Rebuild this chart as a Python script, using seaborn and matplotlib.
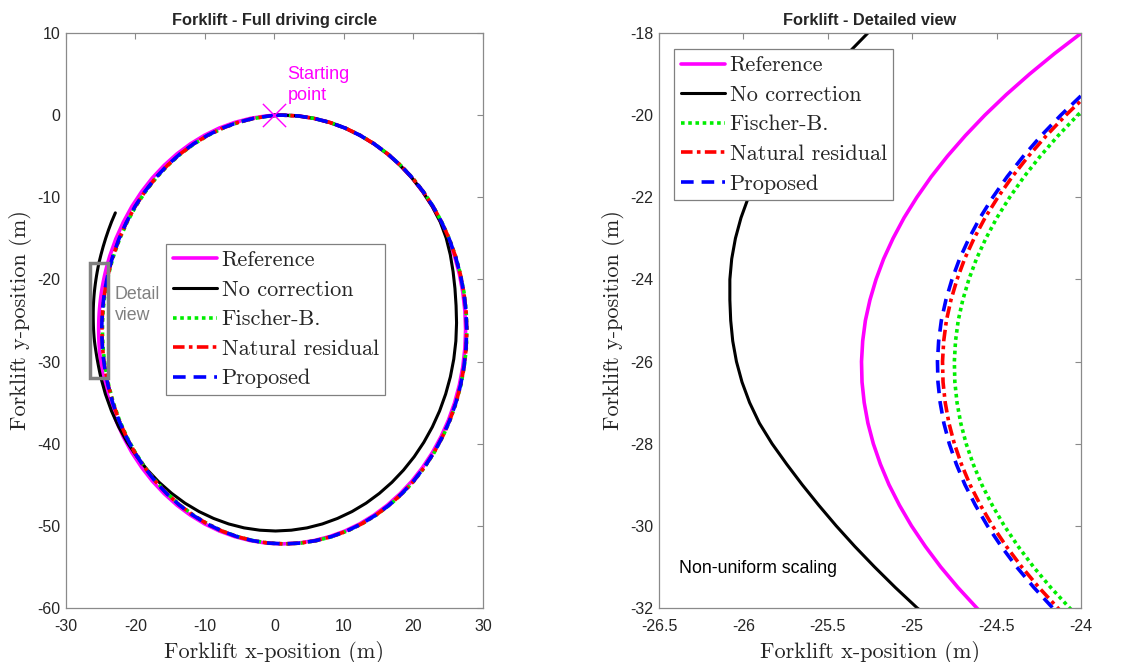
import matplotlib
matplotlib.use("Agg")
import matplotlib.pyplot as plt
import seaborn as sns
import pandas as pd
from matplotlib.patches import Rectangle

# ---------------- data ----------------
series_names = ["Reference", "No correction", "Fischer-B.", "Natural residual", "Proposed"]

# shared y samples of the reference path (clockwise from the starting point)
path_y = [-0.02, 0.00, -0.10, -0.40, -0.89, -1.57, -2.45, -3.50, -4.72, -6.11, -7.64, -9.32, -11.13,
          -13.05, -15.07, -17.17, -19.35, -21.57, -23.83, -26.10, -28.38, -30.63, -32.86, -35.03,
          -37.13, -39.15, -41.07, -42.88, -44.56, -46.09, -47.48, -48.70, -49.76, -50.63, -51.31,
          -51.80, -52.10, -52.20, -52.10, -51.80, -51.31, -50.63, -49.76, -48.70, -47.48, -46.09,
          -44.56, -42.88, -41.07, -39.15, -37.13, -35.03, -32.86,
          -32.0, -31.5, -31.0, -30.5, -30.0, -29.5, -29.0, -28.5, -28.0, -27.5, -27.0, -26.5, -26.0,
          -25.5, -25.0, -24.5, -24.0, -23.5, -23.0, -22.5, -22.0, -21.5, -21.0, -20.5, -20.0, -19.5,
          -19.0, -18.5, -18.0,
          -17.17, -15.07, -13.05, -11.13, -9.32, -7.64, -6.11, -4.72, -3.50, -2.45, -1.57, -0.89,
          -0.40, -0.10, -0.02]

ref_x = [0.00, 1.10, 3.40, 5.68, 7.93, 10.13, 12.26, 14.30, 16.24, 18.07, 19.77, 21.32, 22.73,
         23.96, 25.03, 25.91, 26.60, 27.10, 27.40, 27.50, 27.40, 27.10, 26.60, 25.91, 25.03, 23.96,
         22.73, 21.32, 19.77, 18.07, 16.24, 14.30, 12.26, 10.13, 7.93, 5.68, 3.40, 1.10, -1.20,
         -3.48, -5.73, -7.93, -10.06, -12.10, -14.04, -15.87, -17.57, -19.12, -20.53, -21.76,
         -22.83, -23.71, -24.40,
         -24.617, -24.729, -24.831, -24.922, -25.004, -25.075, -25.137, -25.188, -25.230, -25.262,
         -25.284, -25.297, -25.300, -25.293, -25.277, -25.250, -25.214, -25.169, -25.113, -25.048,
         -24.972, -24.887, -24.791, -24.685, -24.569, -24.442, -24.304, -24.156, -23.997,
         -23.71, -22.83, -21.76, -20.53, -19.12, -17.57, -15.87, -14.04, -12.10, -10.06, -7.93,
         -5.73, -3.48, -1.20, 0.00]

fb_x = [0.00, 1.10, 3.41, 5.70, 7.96, 10.17, 12.31, 14.36, 16.31, 18.15, 19.87, 21.43, 22.85,
        24.09, 25.17, 26.06, 26.76, 27.27, 27.58, 27.69, 27.60, 27.31, 26.82, 26.14, 25.27, 24.21,
        22.99, 21.60, 20.06, 18.37, 16.55, 14.62, 12.59, 10.47, 8.28, 6.04, 3.77, 1.48, -0.81,
        -3.08, -5.32, -7.51, -9.63, -11.66, -13.59, -15.40, -17.09, -18.63, -20.03, -21.25,
        -22.31, -23.18, -23.86,
        -24.067, -24.179, -24.281, -24.372, -24.454, -24.525, -24.587, -24.638, -24.680, -24.712,
        -24.734, -24.747, -24.750, -24.743, -24.727, -24.700, -24.664, -24.619, -24.563, -24.498,
        -24.422, -24.337, -24.241, -24.135, -24.019, -23.892, -23.754, -23.606, -23.447,
        -23.16, -22.28, -21.21, -19.98, -18.57, -17.02, -15.32, -13.49, -11.55, -9.51, -7.38,
        -5.18, -2.93, -0.65, 0.55]

nr_x = [0.00, 1.10, 3.41, 5.70, 7.96, 10.17, 12.31, 14.36, 16.30, 18.14, 19.85, 21.41, 22.83,
        24.07, 25.15, 26.04, 26.74, 27.25, 27.56, 27.67, 27.58, 27.28, 26.79, 26.11, 25.24, 24.18,
        22.96, 21.56, 20.02, 18.33, 16.51, 14.58, 12.55, 10.43, 8.23, 5.99, 3.72, 1.43, -0.86,
        -3.13, -5.37, -7.56, -9.68, -11.71, -13.64, -15.46, -17.15, -18.70, -20.10, -21.32,
        -22.38, -23.25, -23.93,
        -24.137, -24.249, -24.351, -24.442, -24.524, -24.595, -24.657, -24.708, -24.750, -24.782,
        -24.804, -24.817, -24.820, -24.813, -24.797, -24.770, -24.734, -24.689, -24.633, -24.568,
        -24.492, -24.407, -24.311, -24.205, -24.089, -23.962, -23.824, -23.676, -23.517,
        -23.23, -22.35, -21.28, -20.05, -18.64, -17.09, -15.39, -13.56, -11.62, -9.58, -7.45,
        -5.25, -3.00, -0.72, 0.48]

pr_x = [0.00, 1.10, 3.41, 5.70, 7.96, 10.16, 12.30, 14.35, 16.30, 18.14, 19.85, 21.41, 22.83,
        24.06, 25.14, 26.03, 26.73, 27.24, 27.55, 27.66, 27.56, 27.27, 26.78, 26.10, 25.23, 24.17,
        22.95, 21.55, 20.00, 18.31, 16.49, 14.56, 12.53, 10.41, 8.22, 5.97, 3.70, 1.41, -0.88,
        -3.15, -5.39, -7.58, -9.71, -11.74, -13.67, -15.49, -17.18, -18.72, -20.12, -21.34,
        -22.41, -23.28, -23.96,
        -24.167, -24.279, -24.381, -24.472, -24.554, -24.625, -24.687, -24.738, -24.780, -24.812,
        -24.834, -24.847, -24.850, -24.843, -24.827, -24.800, -24.764, -24.719, -24.663, -24.598,
        -24.522, -24.437, -24.341, -24.235, -24.119, -23.992, -23.854, -23.706, -23.547,
        -23.26, -22.38, -21.31, -20.08, -18.67, -17.12, -15.42, -13.59, -11.65, -9.61, -7.48,
        -5.28, -3.03, -0.75, 0.45]

noc_x = [0.00, 1.10, 3.40, 5.68, 7.93, 10.13, 12.26, 14.30, 16.24, 18.07, 19.77, 21.32, 22.70,
         23.85, 24.70, 25.30, 25.70, 25.97, 26.13, 26.20, 26.10, 25.80, 25.31, 24.63, 23.76, 22.71,
         21.49, 20.11, 18.57, 16.90, 15.09, 13.18, 11.16, 9.06, 6.89, 4.67, 2.42, 0.15, -2.12,
         -4.37, -6.59, -8.76, -10.86, -12.88, -14.79, -16.60, -18.27, -19.80, -21.19, -22.41,
         -23.46, -24.33,
         -24.970, -25.100, -25.223, -25.340, -25.450, -25.553, -25.651, -25.743, -25.830, -25.905,
         -25.963, -26.008, -26.041, -26.063, -26.075, -26.080, -26.080, -26.069, -26.047, -26.014,
         -25.970, -25.915, -25.849, -25.774, -25.689, -25.595, -25.492, -25.381, -25.262,
         -24.97, -24.65, -24.29, -23.89, -23.45, -22.90]
noc_y = [-0.02, 0.00, -0.10, -0.40, -0.89, -1.57, -2.45, -3.50, -4.72, -6.11, -7.64, -9.32, -11.13,
         -13.00, -14.95, -17.00, -19.05, -21.12, -23.20, -25.30, -27.51, -29.70, -31.86, -33.96,
         -36.01, -37.97, -39.83, -41.58, -43.21, -44.70, -46.05, -47.24, -48.26, -49.10, -49.77,
         -50.25, -50.53, -50.63, -50.53, -50.25, -49.77, -49.10, -48.26, -47.24, -46.05, -44.70,
         -43.21, -41.58, -39.83, -37.97, -36.01, -33.96,
         -32.0, -31.5, -31.0, -30.5, -30.0, -29.5, -29.0, -28.5, -28.0, -27.5, -27.0, -26.5, -26.0,
         -25.5, -25.0, -24.5, -24.0, -23.5, -23.0, -22.5, -22.0, -21.5, -21.0, -20.5, -20.0, -19.5,
         -19.0, -18.5, -18.0,
         -17.0, -16.0, -15.0, -14.0, -13.0, -11.9]

start_x = [0.0]
start_y = [0.0]

full_xticks = [-30, -20, -10, 0, 10, 20, 30]
full_yticks = [-60, -50, -40, -30, -20, -10, 0, 10]
det_xticks = [-26.5, -26, -25.5, -25, -24.5, -24]
det_yticks = [-32, -30, -28, -26, -24, -22, -20, -18]
det_xlim = (-26.5, -24)
det_ylim = (-32, -18)

# ---------------- styling ----------------
styles = {
    "Reference":        dict(color="#ff00ff", ls="-", lw=2.6),
    "No correction":    dict(color="black", ls="-", lw=2.2),
    "Fischer-B.":       dict(color="#00ee00", ls=(0, (1.0, 1.0)), lw=2.6),
    "Natural residual": dict(color="red", ls=(0, (3.2, 1.2, 1.0, 1.2)), lw=2.6),
    "Proposed":         dict(color="blue", ls=(0, (3.5, 2.2)), lw=2.6),
}
data = {
    "Reference": (ref_x, path_y),
    "No correction": (noc_x, noc_y),
    "Fischer-B.": (fb_x, path_y),
    "Natural residual": (nr_x, path_y),
    "Proposed": (pr_x, path_y),
}

sns.set_style("white")
plt.rcParams["font.family"] = ["Liberation Sans", "DejaVu Sans"]
plt.rcParams["axes.unicode_minus"] = False

fig = plt.figure(figsize=(11.34, 6.62), dpi=100)
ax1 = fig.add_axes([0.0582, 0.0816, 0.3677, 0.8686])
ax2 = fig.add_axes([0.5811, 0.0816, 0.3721, 0.8686])

serif = "cmr10"
tick_col = "#262626"
spine_col = "#8a8a8a"

for ax in (ax1, ax2):
    for name in series_names:
        xs, ys = data[name]
        df = pd.DataFrame({"x": xs, "y": ys})
        st = styles[name]
        sns.lineplot(data=df, x="x", y="y", sort=False, estimator=None, ax=ax,
                     color=st["color"], linestyle=st["ls"], linewidth=st["lw"], label=name)

# starting point marker
sns.scatterplot(x=start_x, y=start_y, ax=ax1, marker="x", color="#ff00ff", s=280,
                linewidth=1.0, zorder=5, legend=False)
ax1.text(1.9, 3.7, "Starting\npoint", color="#ff00ff", fontsize=13, ha="left", va="center",
         linespacing=1.3)

# detail box
ax1.add_patch(Rectangle((det_xlim[0], det_ylim[0]), det_xlim[1] - det_xlim[0],
                        det_ylim[1] - det_ylim[0], fill=False, edgecolor="#808080", lw=2.5, zorder=6))
ax1.text(-22.95, -23.1, "Detail\nview", color="#808080", fontsize=12.8, ha="left", va="center",
         linespacing=1.3)

ax2.text(-26.38, -31.03, "Non-uniform scaling", color="black", fontsize=12.8, ha="left", va="center")

ax1.set_xlim(-30, 30)
ax1.set_ylim(-60, 10)
ax1.set_xticks(full_xticks)
ax1.set_yticks(full_yticks)
ax2.set_xlim(*det_xlim)
ax2.set_ylim(*det_ylim)
ax2.set_xticks(det_xticks)
ax2.set_yticks(det_yticks)
ax2.set_xticklabels([f"{v:g}" for v in det_xticks])

ax1.set_title("Forklift - Full driving circle", fontsize=11.8, fontweight="bold", pad=6)
ax2.set_title("Forklift - Detailed view", fontsize=11.8, fontweight="bold", pad=6)

for ax in (ax1, ax2):
    ax.set_xlabel("Forklift x-position (m)", fontfamily=serif, fontsize=16, labelpad=5)
    ax.set_ylabel("Forklift y-position (m)", fontfamily=serif, fontsize=16, labelpad=4)
    ax.tick_params(direction="in", top=True, right=True, length=4, width=0.8,
                   colors=spine_col, labelcolor=tick_col, labelsize=11.5)
    ax.tick_params(axis="x", pad=8)
    ax.tick_params(axis="y", pad=4)
    for sp in ax.spines.values():
        sp.set_color(spine_col)
        sp.set_linewidth(0.9)
        sp.set_visible(True)

leg_kw = dict(prop={"family": serif, "size": 16}, frameon=True, fancybox=False,
              edgecolor="#808080", framealpha=1.0, handlelength=2.0, handletextpad=0.2,
              labelspacing=0.45, borderpad=0.3, borderaxespad=0.0)
l1 = ax1.legend(loc="upper left", bbox_to_anchor=(0.240, 0.633), **leg_kw)
l2 = ax2.legend(loc="upper left", bbox_to_anchor=(0.0355, 0.972), **leg_kw)
for l in (l1, l2):
    l.get_frame().set_linewidth(0.9)
    l.set_zorder(10)

fig.savefig("out.png", dpi=100)
